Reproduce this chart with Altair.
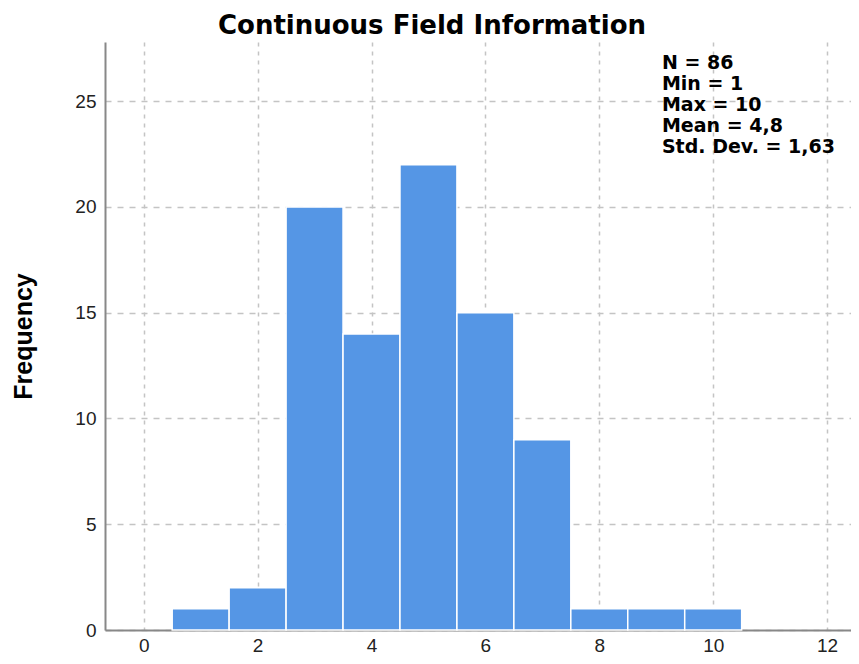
import altair as alt
import pandas as pd

# Histogram data (bin centres and frequencies)
bin_centers = [1, 2, 3, 4, 5, 6, 7, 8, 9, 10]
counts = [1, 2, 20, 14, 22, 15, 9, 1, 1, 1]
bin_width = 1.0

# Summary statistics box
stat_names = ["N", "Min", "Max", "Mean", "Std. Dev."]
stat_values = ["86", "1", "10", "4,8", "1,63"]
stat_pos_x = [9.1]
stat_pos_y = [27.25]

x_ticks = [0, 2, 4, 6, 8, 10, 12]
y_ticks = [0, 5, 10, 15, 20, 25]

bars = pd.DataFrame({
    "center": bin_centers,
    "count": counts,
})
bars["start"] = bars["center"] - bin_width / 2
bars["end"] = bars["center"] + bin_width / 2
bars["base"] = 0

stats = pd.DataFrame({
    "x": stat_pos_x,
    "y": stat_pos_y,
    "label": ["\n".join(f"{n} = {v}" for n, v in zip(stat_names, stat_values))],
})

x_scale = alt.Scale(domain=[-0.68, 12.42], nice=False, zero=False, padding=0)
y_scale = alt.Scale(domain=[0, 27.8], nice=False, padding=0)

bar_layer = alt.Chart(bars).mark_bar(
    color="#5596e5", stroke="white", strokeWidth=1.5
).encode(
    x=alt.X("start:Q", scale=x_scale,
            axis=alt.Axis(values=x_ticks, title=None, grid=True, format="d",
                          gridDash=[4, 5], gridColor="#c4c4c4", gridWidth=1.5,
                          ticks=False, labelPadding=6,
                          labelFont="Liberation Sans", labelFontSize=19,
                          labelColor="#222", domainColor="#888", domainWidth=2)),
    x2="end:Q",
    y=alt.Y("count:Q", scale=y_scale,
            axis=alt.Axis(values=y_ticks, title="Frequency", grid=True, format="d",
                          gridDash=[6, 6], gridColor="#c4c4c4", gridWidth=1.5,
                          ticks=False, labelPadding=9,
                          labelFont="Liberation Sans", labelFontSize=19,
                          labelColor="#222", domainColor="#888", domainWidth=2,
                          titleFont="Liberation Sans", titleFontSize=25,
                          titleFontWeight="bold", titleColor="#000",
                          titlePadding=38)),
    y2="base:Q",
)

text_layer = alt.Chart(stats).mark_text(
    align="left", baseline="top", font="DejaVu Sans", fontSize=19,
    fontWeight="bold", lineBreak="\n", lineHeight=21, color="#000"
).encode(
    x=alt.X("x:Q", scale=x_scale),
    y=alt.Y("y:Q", scale=y_scale),
    text="label:N",
)

chart = alt.layer(bar_layer, text_layer).properties(
    width=746,
    height=588,
    autosize=alt.AutoSizeParams(type="none"),
    padding={"left": 97, "top": 34, "right": 0, "bottom": 26},
    title=alt.TitleParams(
        "Continuous Field Information", font="DejaVu Sans", fontSize=26,
        fontWeight="bold", color="#000", anchor="middle", dx=-46, offset=3
    ),
).configure_view(stroke=None)

chart.save("out.html", embed_options={"renderer": "svg", "actions": False})
